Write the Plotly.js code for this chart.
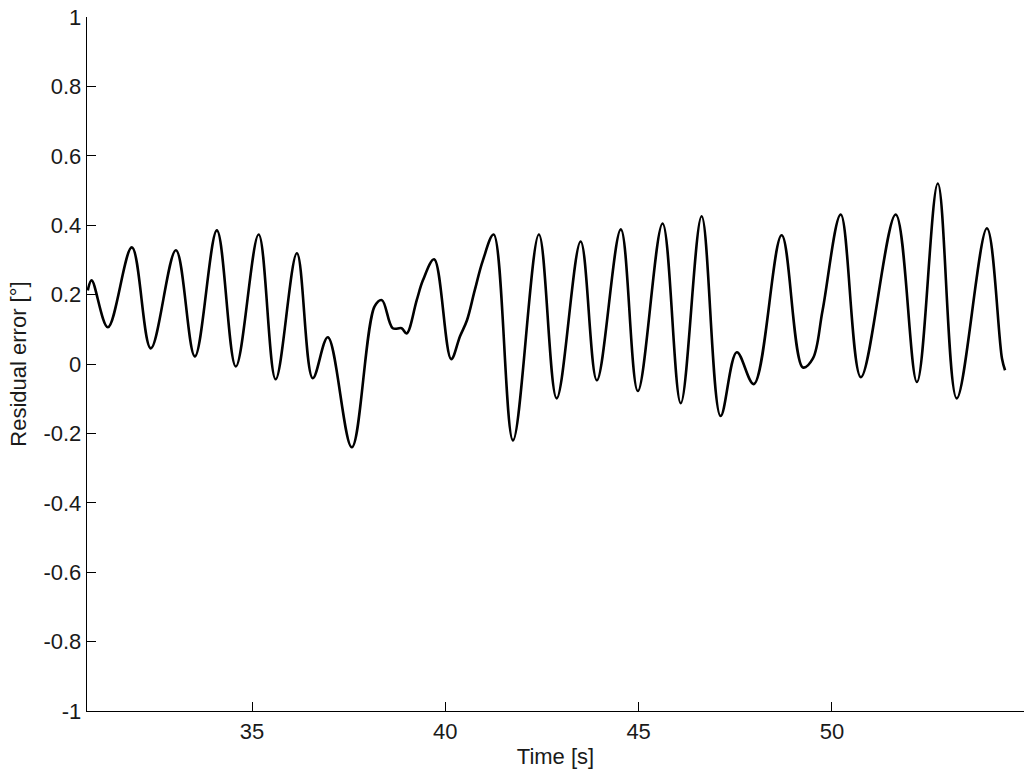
<!DOCTYPE html>
<html>
<head>
<meta charset="utf-8">
<script src="https://cdn.plot.ly/plotly-3.0.1.min.js"></script>
<style>html,body{margin:0;padding:0;background:#fff;}#chart{width:1024px;height:777px;}</style>
</head>
<body>
<div id="chart"></div>
<script>
// Time [s] and residual error [°]
const timeS = [30.75, 30.85, 31.27, 31.89, 32.38, 33.03, 33.52, 34.09, 34.58, 35.17,
  35.61, 36.16, 36.57, 36.96, 37.58, 38.17, 38.36, 38.64, 38.87, 39.00,
  39.26, 39.42, 39.71, 40.15, 40.38, 40.56, 40.76, 40.97, 41.25, 41.75,
  42.42, 42.88, 43.50, 43.92, 44.54, 44.98, 45.62, 46.09, 46.63, 47.12,
  47.54, 47.98, 48.70, 49.25, 49.51, 49.76, 50.23, 50.75, 51.65, 52.20,
  52.74, 53.23, 54.01, 54.40, 54.48];
const residual = [0.212, 0.241, 0.106, 0.336, 0.045, 0.328, 0.022, 0.385, -0.007, 0.373,
  -0.044, 0.319, -0.041, 0.077, -0.240, 0.166, 0.184, 0.103, 0.103, 0.088,
  0.184, 0.241, 0.302, 0.014, 0.080, 0.126, 0.212, 0.298, 0.373, -0.220,
  0.373, -0.099, 0.353, -0.047, 0.388, -0.078, 0.405, -0.113, 0.426, -0.150,
  0.034, -0.058, 0.371, -0.010, 0.016, 0.155, 0.431, -0.038, 0.431, -0.052,
  0.520, -0.099, 0.391, 0.016, -0.018];
const yTickVals = [-1, -0.8, -0.6, -0.4, -0.2, 0, 0.2, 0.4, 0.6, 0.8, 1];
const yTickText = ["-1", "-0.8", "-0.6", "-0.4", "-0.2", "0", "0.2", "0.4", "0.6", "0.8", "1"];
const xTickVals = [35, 40, 45, 50];
const xTickText = ["35", "40", "45", "50"];

const font = {family: "Liberation Sans, Arial, sans-serif", size: 22, color: "#1a1a1a"};
const trace = {
  x: timeS, y: residual, type: "scatter", mode: "lines",
  line: {color: "#000", width: 2.6, shape: "spline", smoothing: 1.0},
  hoverinfo: "skip"
};
const layout = {
  width: 1024, height: 777,
  margin: {l: 87, r: 0, t: 17, b: 66, pad: 0},
  paper_bgcolor: "#fff", plot_bgcolor: "#fff",
  showlegend: false,
  font: font,
  xaxis: {
    range: [30.73, 54.97], showgrid: false, zeroline: false,
    showline: true, linecolor: "#000", linewidth: 1.3,
    ticks: "inside", ticklen: 9, tickwidth: 1, tickcolor: "#000",
    tickvals: xTickVals, ticktext: xTickText, tickfont: font,
    title: {text: "Time [s]", font: font, standoff: 6}
  },
  yaxis: {
    range: [-1, 1], showgrid: false, zeroline: false,
    showline: true, linecolor: "#000", linewidth: 1.3,
    ticks: "inside", ticklen: 9, tickwidth: 1, tickcolor: "#000",
    tickvals: yTickVals, ticktext: yTickText, tickfont: font,
    title: {text: "Residual error [°]", font: font, standoff: 10}
  }
};
Plotly.newPlot("chart", [trace], layout, {displayModeBar: false, staticPlot: true});
</script>
</body>
</html>
